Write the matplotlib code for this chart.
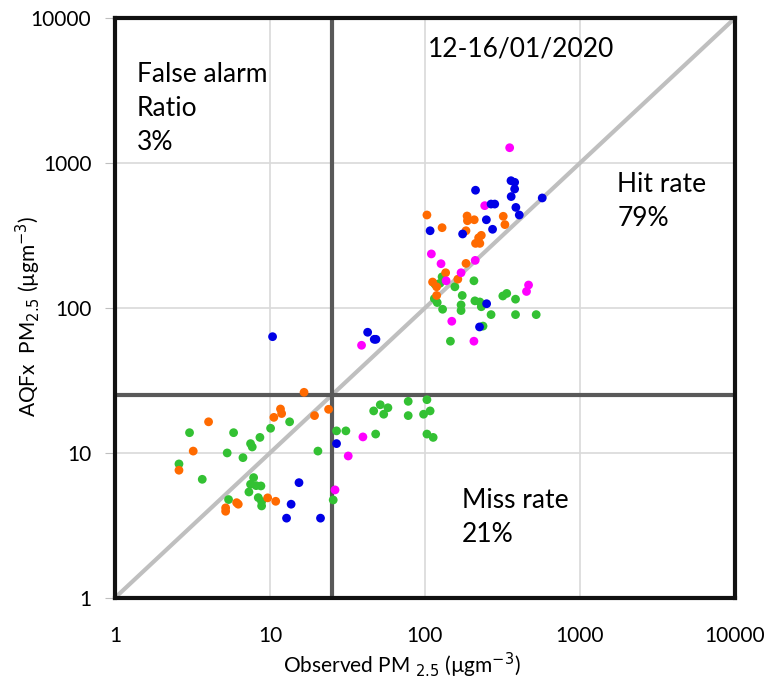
import matplotlib.pyplot as plt

plt.rcParams['font.family'] = ['Lato', 'DejaVu Sans']

# observed (x) vs AQFx (y), one colour per group
blue_obs = [10.4, 42.7, 47.1, 48.3, 15.4, 13.7, 12.8, 21.2, 26.9,
            359, 379, 379, 212, 360, 571, 267, 282, 386, 406, 249, 273, 108, 175, 250, 225]
blue_fc = [63.4, 68, 60.8, 60.8, 6.24, 4.43, 3.55, 3.55, 11.6,
           755, 736, 662, 649, 587, 574, 521, 521, 494, 438, 406, 349, 341, 324, 107, 74]

orange_obs = [16.6, 23.9, 19.4, 11.7, 11.9, 10.6, 4.02, 3.2, 2.59, 6.1, 6.25, 5.18, 5.18, 9.67, 10.9,
              103, 129, 187, 188, 208, 184, 320, 328, 222, 231, 212, 226, 184, 136, 163, 112, 119, 119]
orange_fc = [26.2, 20.0, 18.1, 20.1, 18.7, 17.6, 16.4, 10.3, 7.6, 4.54, 4.43, 4.18, 3.96, 4.9, 4.64,
             438, 358, 431, 400, 406, 341, 429, 376, 305, 317, 279, 279, 203, 175, 158, 151, 140, 122]

green_obs = [13.4, 10.1, 8.62, 7.5, 7.69, 6.7, 5.3, 5.83, 3.03, 2.59, 3.66, 7.85, 7.5, 8.15, 8.75,
             7.32, 5.41, 8.41, 8.84, 8.84, 20.4, 26.9, 30.9, 25.6,
             48.1, 46.7, 51.5, 54.2, 57.7, 78, 78, 103, 108, 98, 103, 113,
             146, 129, 116, 125, 156, 207, 115, 120, 130, 174, 171, 171, 210, 226, 231,
             267, 318, 337, 384, 384, 522, 237]
green_fc = [16.4, 14.8, 12.8, 11.6, 11.0, 9.28, 10, 13.8, 13.8, 8.4, 6.58, 6.76, 6.08, 5.95, 5.92,
            5.38, 4.77, 4.92, 4.62, 4.31, 10.3, 14.2, 14.2, 4.74,
            13.5, 19.5, 21.5, 18.5, 20.5, 22.7, 18.1, 23.3, 19.5, 18.5, 13.5, 12.8,
            59, 164, 146, 148, 140, 154, 116, 109, 98, 122, 105, 96, 112, 110, 102,
            90, 121, 126, 115, 90, 90, 75]

magenta_obs = [32, 26.3, 39, 39.8, 149, 207, 352, 243, 211, 110, 127, 171, 137, 466, 452]
magenta_fc = [9.53, 5.56, 55.3, 12.9, 81, 59, 1275, 508, 213, 236, 202, 175, 154, 144, 130]

threshold = 25
ticks = [1, 10, 100, 1000, 10000]
tick_labels = ['1', '10', '100', '1000', '10000']

fig = plt.figure(figsize=(7.66, 6.81), dpi=100)
ax = fig.add_axes([0.150, 0.122, 0.8095, 0.8515])
ax.set_xscale('log')
ax.set_yscale('log')
ax.set_xlim(1, 10000)
ax.set_ylim(1, 10000)

ax.grid(True, which='major', color='#d9d9d9', linewidth=1.2)
ax.set_axisbelow(True)
ax.plot([1, 10000], [1, 10000], color='#bfbfbf', linewidth=3, zorder=2)
ax.axvline(threshold, color='#595959', linewidth=3, zorder=2)
ax.axhline(threshold, color='#595959', linewidth=3, zorder=2)

for xs, ys, c in [(green_obs, green_fc, '#33c133'),
                  (orange_obs, orange_fc, '#ff6a00'),
                  (magenta_obs, magenta_fc, '#ff00ff'),
                  (blue_obs, blue_fc, '#0000e6')]:
    ax.scatter(xs, ys, s=40, color=c, edgecolors='none', zorder=3)

ax.set_xticks(ticks)
ax.set_xticklabels(tick_labels)
ax.set_yticks(ticks)
ax.set_yticklabels(tick_labels)
ax.minorticks_off()
ax.tick_params(axis='x', length=0, pad=20, labelsize=15)
ax.tick_params(axis='y', length=7, color='#bfbfbf', pad=10, labelsize=15)
for sp in ax.spines.values():
    sp.set_linewidth(3)
    sp.set_color('#111111')

fig.text(402 / 766, 1 - 665 / 681, 'Observed PM $_{2.5}$ (µgm$^{-3}$)', fontsize=15,
         ha='center', va='center')
fig.text(28 / 766, 1 - 316 / 681, 'AQFx  PM$_{2.5}$ (µgm$^{-3}$)', fontsize=15,
         ha='center', va='center', rotation=90)

ax.text(0.035, 0.925, 'False alarm\nRatio\n3%', transform=ax.transAxes, fontsize=19,
        va='top', ha='left', linespacing=1.45)
ax.text(0.505, 0.968, '12-16/01/2020', transform=ax.transAxes, fontsize=19,
        va='top', ha='left')
ax.text(0.81, 0.735, 'Hit rate\n79%', transform=ax.transAxes, fontsize=19,
        va='top', ha='left', linespacing=1.45)
ax.text(0.56, 0.19, 'Miss rate\n21%', transform=ax.transAxes, fontsize=19,
        va='top', ha='left', linespacing=1.45)

fig.savefig('out.png', dpi=100)
